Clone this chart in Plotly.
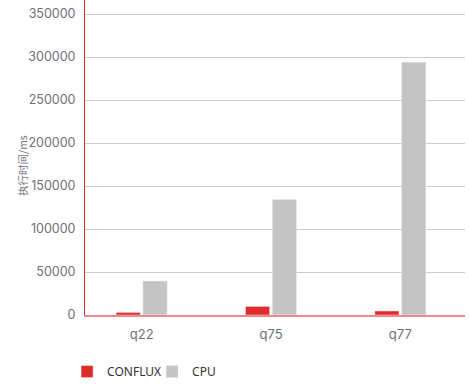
import plotly.graph_objects as go

categories = ["q22", "q75", "q77"]
conflux = [3000, 10000, 4700]
cpu = [39600, 134300, 294000]
y_ticks = [0, 50000, 100000, 150000, 200000, 250000, 300000, 350000]
y_title = "执行时间/ms"

fig = go.Figure()
fig.add_trace(go.Bar(name="CONFLUX", x=categories, y=conflux, marker_color="#e02b2b"))
fig.add_trace(go.Bar(name="CPU", x=categories, y=cpu, marker_color="#c4c4c4"))

fig.update_layout(
    width=469, height=386,
    margin=dict(l=85, r=4, t=0, b=71, autoexpand=False),
    plot_bgcolor="white", paper_bgcolor="white",
    barmode="group", bargap=0.585, bargroupgap=0.1,
    font=dict(family="Inter, sans-serif", color="#6e7079", size=12),
    legend=dict(orientation="h", xref="container", yref="container",
                x=0.143, y=0.075, xanchor="left", yanchor="top",
                entrywidth=40, entrywidthmode="pixels",
                font=dict(family="Noto Sans, sans-serif", size=12, color="#333333")),
    xaxis=dict(range=[-0.438, 2.5], showline=True, linecolor="#f08a8a", linewidth=2,
               ticks="", tickfont=dict(size=13), showgrid=False, automargin=False,
               ticklabelstandoff=6),
    yaxis=dict(range=[0, 366300], tickvals=y_ticks, ticktext=[str(v) for v in y_ticks],
               showline=True, linecolor="#e02b2b", linewidth=1,
               gridcolor="#cccccc", gridwidth=1, zeroline=False, automargin=False,
               ticks="", ticklabelstandoff=6, tickfont=dict(size=12.5)),
    annotations=[dict(text=y_title, xref="paper", yref="paper", x=-0.166, y=0.476,
                      textangle=-90, showarrow=False, xanchor="center", yanchor="middle",
                      font=dict(family="Noto Sans CJK SC", size=10.5, color="#6e7079"))],
)

fig.write_html("out.html", config={"displayModeBar": False},
               post_script="document.body.style.margin='0px';document.body.style.overflow='hidden';")
